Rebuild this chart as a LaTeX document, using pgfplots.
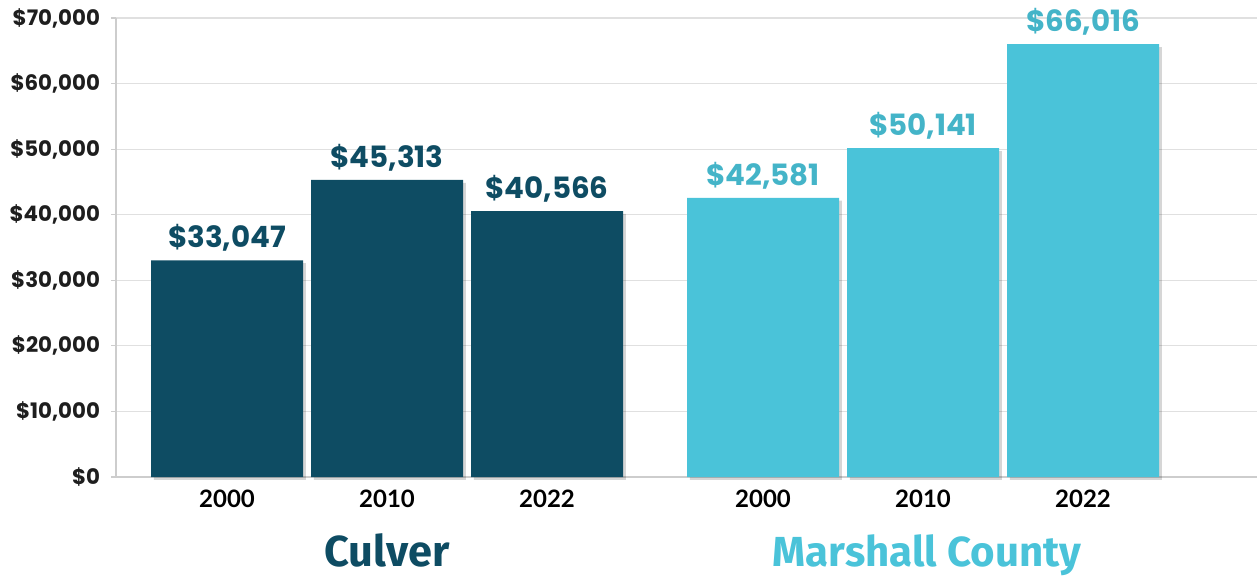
\documentclass[border=0pt]{standalone}
\usepackage{fontspec}
\setmainfont{Poppins}
\newfontfamily\yearfont{Lato}
\newfontfamily\groupfont{Fira Sans}
\usepackage{pgfplots}
\pgfplotsset{compat=1.18}
\definecolor{culver}{RGB}{14,76,99}
\definecolor{marshall}{RGB}{74,195,217}
\definecolor{gridgray}{RGB}{224,224,224}
\definecolor{tickgray}{RGB}{30,30,30}

\pgfplotsset{
  valuelabels/.style={
    nodes near coords={\$\pgfmathprintnumber[fixed,precision=0,1000 sep={,}]{\pgfplotspointmeta}},
    nodes near coords style={font=\fontsize{22}{23}\selectfont\bfseries, anchor=south, inner sep=0pt, yshift=6.5pt, text=#1},
  },
  barshadow/.style={fill=black, draw=none, opacity=0.16, bar shift=2.2pt, yshift=-2.2pt, forget plot},
}

\begin{document}
% 1 px of the reference = 0.75pt
\begin{tikzpicture}
\begin{axis}[
  name=ax,
  scale only axis, width=855.75pt, height=344.25pt,
  xmin=-0.694, xmax=6.4375, ymin=0, ymax=70000,
  ybar, bar shift=0pt, bar width=0.95,
  axis lines*=left, axis line style={draw=gridgray!80!gray, line width=0.9pt},
  ymajorgrids, grid style={gridgray, line width=0.9pt},
  ytick={0,10000,...,70000},
  scaled y ticks=false,
  yticklabel={\$\pgfmathprintnumber{\tick}},
  /pgf/number format/.cd, fixed, 1000 sep={,}, assume math mode=true, /pgfplots/.cd,
  yticklabel style={font=\fontsize{16}{17}\selectfont\bfseries, text=tickgray, xshift=-5pt},
  ytick style={draw=gridgray!80!gray, line width=0.9pt},
  tick align=outside, major tick length=3.5pt,
  xtick={0,1,2,3.35,4.35,5.35},
  xticklabels={2000,2010,2022,2000,2010,2022},
  xticklabel style={font=\yearfont\fontsize{18}{19}\selectfont\bfseries, text=black, yshift=-3pt},
  xtick style={draw=none},
  clip=false,
]
% soft shadows behind the bars
\addplot[barshadow] coordinates {(0,33047) (1,45313) (2,40566)};
\addplot[barshadow] coordinates {(3.35,42581) (4.35,50141) (5.35,66016)};
% Culver
\addplot[fill=culver, draw=none, valuelabels=culver]
  coordinates {(0,33047) (1,45313) (2,40566)};
% Marshall County
\addplot[fill=marshall, draw=none, valuelabels=marshall!92!black]
  coordinates {(3.35,42581) (4.35,50141) (5.35,66016)};
\node[anchor=base, inner sep=0pt, font=\groupfont\fontsize{32.5}{33}\selectfont\bfseries, text=culver]
  at (axis cs:1,0) [yshift=-67pt] {Culver};
\node[anchor=base, inner sep=0pt, font=\groupfont\fontsize{31.5}{32}\selectfont\bfseries, text=marshall]
  at (axis cs:4.35,0) [yshift=-67pt, xshift=3pt] {Marshall County};
\end{axis}
% frame the picture as the reference is framed (1257 x 577 px)
\pgfresetboundingbox
\path[use as bounding box] ([xshift=-87pt,yshift=-75pt]ax.south west) rectangle ([yshift=13.5pt]ax.north east);
\end{tikzpicture}
\end{document}
